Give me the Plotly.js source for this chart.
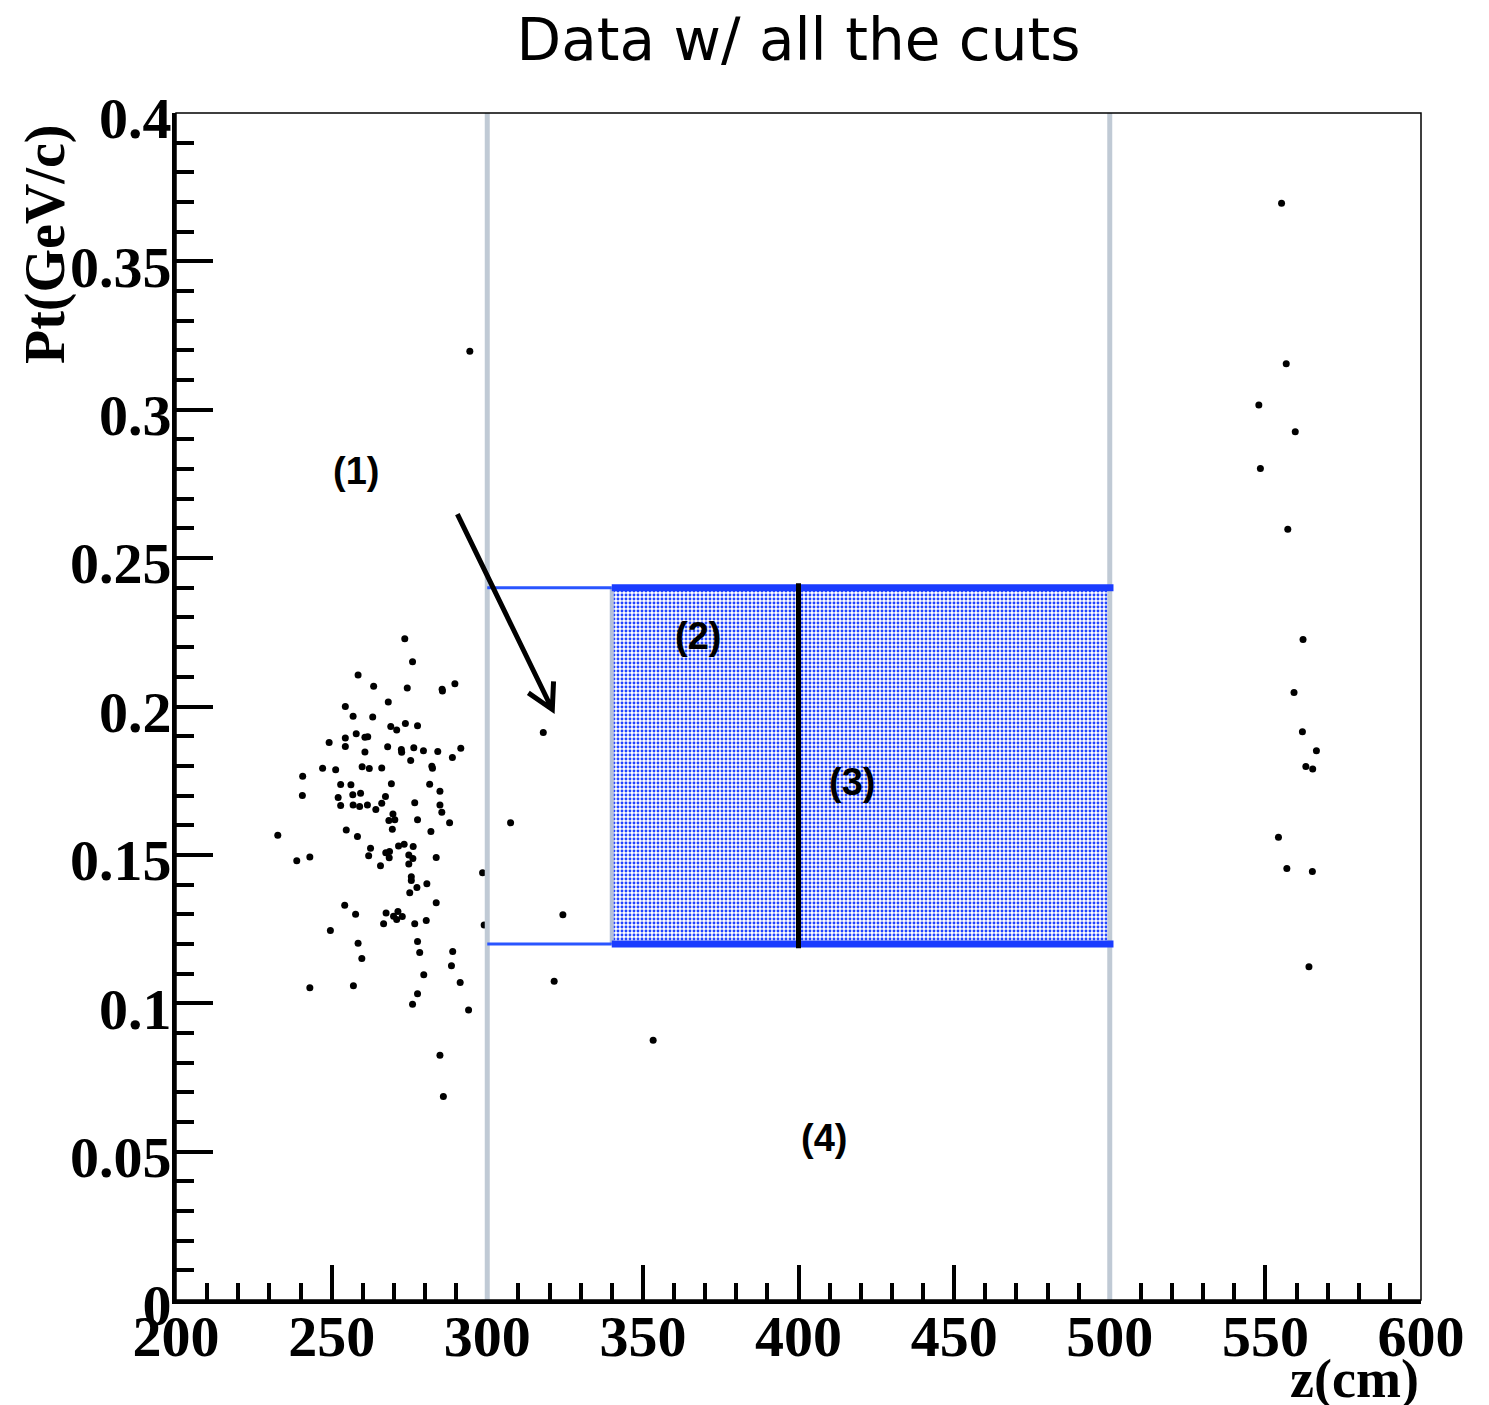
<!DOCTYPE html>
<html>
<head>
<meta charset="utf-8">
<script src="https://cdn.plot.ly/plotly-3.0.1.min.js"></script>
<style>html,body{margin:0;padding:0;background:#fff;}#chart{width:1489px;height:1405px;}</style>
</head>
<body>
<div id="chart"></div>
<script>
// ---- data ----
const zLeft = [273.5,276.0,258.5,263.5,274.3,285.5,285.6,289.6,268.2,254.4,
  256.9,263.2,269.0,270.9,273.7,277.6,257.9,254.4,260.7,261.6,
  249.2,254.4,260.7,268.0,272.4,272.5,276.4,279.5,284.1,291.5,
  288.8,275.4,240.7,247.1,251.3,259.8,262.1,266.1,282.2,282.4,
  252.9,256.2,269.2,281.5,284.8,240.6,252.1,256.8,259.3,267.3,
  252.9,256.9,259.0,261.5,264.2,266.1,276.7,284.8,285.4,269.7,
  268.4,270.3,277.6,287.9,254.7,269.5,281.9,232.7,258.3,262.5,
  271.5,273.3,276.2,238.8,243.0,261.9,267.4,268.6,268.5,274.8,
  276.1,283.6,265.7,274.8,298.5,275.6,275.6,277.4,280.6,275.1,
  283.6,254.2,257.7,267.5,271.3,269.9,270.9,272.7,266.7,276.7,
  280.4,299.0,249.6,258.5,277.6,278.3,288.9,259.7,288.5,279.6,
  291.3,243.0,257.0,277.6,276.0,294.0,284.8,285.9];
const ptLeft = [0.2228,0.2151,0.2106,0.2068,0.2062,0.2058,0.2052,0.2077,0.2015,0.2000,
  0.1967,0.1965,0.1933,0.1921,0.1943,0.1935,0.1908,0.1894,0.1896,0.1898,
  0.1879,0.1865,0.1847,0.1864,0.1855,0.1846,0.1861,0.1851,0.1848,0.1859,
  0.1828,0.1818,0.1765,0.1792,0.1787,0.1797,0.1791,0.1793,0.1799,0.1792,
  0.1737,0.1736,0.1740,0.1738,0.1714,0.1700,0.1693,0.1703,0.1708,0.1697,
  0.1666,0.1668,0.1663,0.1668,0.1653,0.1674,0.1676,0.1668,0.1644,0.1638,
  0.1616,0.1618,0.1618,0.1608,0.1584,0.1586,0.1579,0.1566,0.1562,0.1522,
  0.1530,0.1536,0.1528,0.1480,0.1493,0.1497,0.1507,0.1511,0.1490,0.1500,
  0.1488,0.1491,0.1463,0.1469,0.1440,0.1426,0.1414,0.1390,0.1403,0.1372,
  0.1339,0.1330,0.1300,0.1304,0.1309,0.1293,0.1282,0.1292,0.1268,0.1268,
  0.1279,0.1264,0.1245,0.1202,0.1208,0.1171,0.1174,0.1151,0.1126,0.1096,
  0.1070,0.1052,0.1059,0.1032,0.0997,0.0977,0.0825,0.0686];
const zMid = [294.4,318.0,307.5,324.3,321.5,353.3];
const ptMid = [0.3197,0.1912,0.1608,0.1298,0.1074,0.0875];
const zRight = [555.2,556.7,547.9,559.6,548.4,557.2,562.1,559.2,561.9,566.4,563.0,565.2,554.2,556.9,565.1,564.0];
const ptRight = [0.3696,0.3155,0.3016,0.2926,0.2802,0.2597,0.2226,0.2047,0.1915,0.1851,0.1798,0.1789,0.1559,0.1454,0.1444,0.1123];

// cut regions
const zCuts = [300, 500];          // vertical z cuts
const boxZ = [340, 500];           // shaded region in z
const boxPt = [0.12, 0.24];        // shaded region in Pt
const zMidLine = [400];            // central black line
const arrowZ = [290.4, 320.9];     // arrow tail -> tip
const arrowPt = [0.2648, 0.1990];

const xTickVals = [200,250,300,350,400,450,500,550,600];
const xTickText = ["200","250","300","350","400","450","500","550","600"];
const yTickVals = [0,0.05,0.1,0.15,0.2,0.25,0.3,0.35,0.4];
const yTickText = ["0","0.05","0.1","0.15","0.2","0.25","0.3","0.35","0.4"];
const regionLabels = ["(1)","(2)","(3)","(4)"];

// ---- traces ----
const markerStyle = {color:'black', size:7, symbol:'circle', line:{width:0}};
const traces = [
  {type:'bar', x:[(boxZ[0]+boxZ[1])/2], y:[boxPt[1]-boxPt[0]], base:[boxPt[0]],
   width:[boxZ[1]-boxZ[0]], showlegend:false, hoverinfo:'skip',
   marker:{color:'white', line:{width:0},
     pattern:{shape:'.', fgcolor:'#2244ff', bgcolor:'#ffffff', size:4, solidity:0.42, fillmode:'replace'}}},
  {type:'scatter', mode:'markers', x:zLeft, y:ptLeft, marker:markerStyle, showlegend:false},
  {type:'scatter', mode:'markers', x:zMid, y:ptMid, marker:markerStyle, showlegend:false},
  {type:'scatter', mode:'markers', x:zRight, y:ptRight, marker:markerStyle, showlegend:false}
];

// ---- shapes ----
const gray = '#c0cad5';
const blue = '#1a3cff';
const shapes = [];
zCuts.forEach(z => shapes.push({type:'line', xref:'x', yref:'paper', x0:z, x1:z, y0:0, y1:1,
  line:{color:gray, width:5}, layer:'above'}));
shapes.push({type:'line', xref:'x', yref:'y', x0:boxZ[0], x1:boxZ[0], y0:boxPt[0], y1:boxPt[1],
  line:{color:'#b4bfd8', width:4}, layer:'above'});
// thin lines from first cut to box
boxPt.forEach(p => shapes.push({type:'line', xref:'x', yref:'y', x0:zCuts[0], x1:boxZ[0], y0:p, y1:p,
  line:{color:'#2a55ff', width:3}, layer:'above'}));
// thick box edges
boxPt.forEach(p => shapes.push({type:'line', xref:'x', yref:'y', x0:boxZ[0], x1:boxZ[1]+1.2, y0:p, y1:p,
  line:{color:blue, width:7}, layer:'above'}));
// central black line
shapes.push({type:'line', xref:'x', yref:'y', x0:zMidLine[0], x1:zMidLine[0], y0:boxPt[0]-0.0015, y1:boxPt[1]+0.0015,
  line:{color:'black', width:5}, layer:'above'});
// arrow shaft + open head
shapes.push({type:'path', xref:'x', yref:'y',
  path:`M ${arrowZ[0]},${arrowPt[0]} L ${arrowZ[1]},${arrowPt[1]} M 313.2,0.2046 L ${arrowZ[1]},${arrowPt[1]} L 321.3,0.2085`,
  line:{color:'black', width:5}, layer:'above'});
// thin frame
shapes.push({type:'rect', xref:'paper', yref:'paper', x0:0, x1:1, y0:0, y1:1,
  line:{color:'black', width:1.5}, fillcolor:'rgba(0,0,0,0)', layer:'above'});

const labFont = {family:'Liberation Sans', size:38, color:'black', weight:'bold'};
const serifBold = {family:'Liberation Serif', size:58, color:'black', weight:'bold'};
const titleFont = {family:'Liberation Serif', size:56, color:'black', weight:'bold'};
const annotations = [
  {text:regionLabels[0], x:257.7, y:0.2793, xref:'x', yref:'y', showarrow:false, font:labFont},
  {text:regionLabels[1], x:367.6, y:0.2239, xref:'x', yref:'y', showarrow:false, font:labFont},
  {text:regionLabels[2], x:417.1, y:0.1744, xref:'x', yref:'y', showarrow:false, font:labFont},
  {text:regionLabels[3], x:408.1, y:0.0546, xref:'x', yref:'y', showarrow:false, font:labFont},
  {text:'Pt(GeV/c)', textangle:-90, xref:'paper', yref:'paper', x:-0.105, y:0.889,
   xanchor:'center', yanchor:'middle', showarrow:false, font:titleFont},
  {text:'z(cm)', xref:'paper', yref:'paper', x:1, y:-0.0665, xanchor:'right', yanchor:'middle',
   showarrow:false, font:{family:'Liberation Serif', size:54, color:'black', weight:'bold'}}
];

const layout = {
  width:1489, height:1405,
  margin:{l:176, r:68, t:113, b:105},
  paper_bgcolor:'white', plot_bgcolor:'white',
  title:{text:'Data w/ all the cuts', x:0.5, xref:'paper', y:0.9715, yref:'container', yanchor:'middle', xanchor:'center',
    font:{family:'DejaVu Sans', size:58, color:'black'}},
  showlegend:false,
  bargap:0,
  xaxis:{range:[200,600], showgrid:false, zeroline:false, showline:true, linecolor:'black', linewidth:4,
    ticks:'inside', ticklen:35, tickwidth:4, tickcolor:'black',
    tickmode:'array', tickvals:xTickVals, ticktext:xTickText, tickfont:serifBold,
    ticklabelstandoff:-18,
    minor:{ticks:'inside', ticklen:17, tickwidth:4, tickcolor:'black', dtick:10, showgrid:false},
    fixedrange:true},
  yaxis:{range:[0,0.4], showgrid:false, zeroline:false, showline:true, linecolor:'black', linewidth:4,
    ticks:'inside', ticklen:37, tickwidth:4, tickcolor:'black',
    tickmode:'array', tickvals:yTickVals, ticktext:yTickText, tickfont:serifBold,
    ticklabelshift:5, ticklabelstandoff:-11,
    minor:{ticks:'inside', ticklen:18, tickwidth:4, tickcolor:'black', dtick:0.01, showgrid:false},
    fixedrange:true},
  shapes:shapes,
  annotations:annotations
};

Plotly.newPlot('chart', traces, layout, {displayModeBar:false, staticPlot:true});
</script>
</body>
</html>
